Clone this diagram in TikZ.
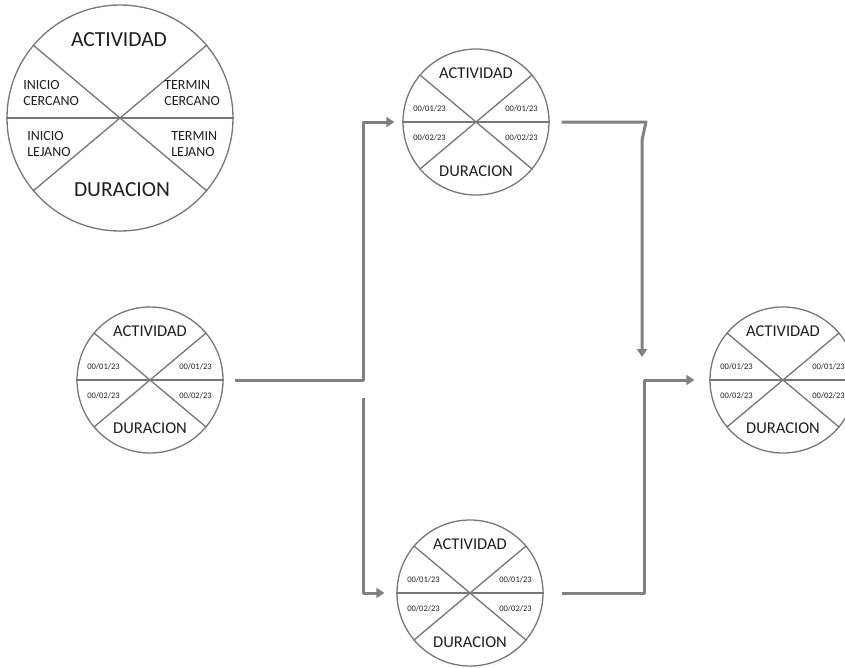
\documentclass[tikz,border=0pt]{standalone}
\usepackage{fontspec}
\setmainfont{Carlito}
\usepackage{tikz}
\usetikzlibrary{arrows.meta}
\definecolor{cgrey}{RGB}{118,118,118}
\definecolor{agrey}{RGB}{128,128,128}
\definecolor{tblack}{RGB}{30,30,30}

\begin{document}
\begin{tikzpicture}[x=1pt,y=-1pt,semithick,>={Triangle[length=8pt,width=10pt]}]
      \tikzstyle{event}=[circle,draw=cgrey,line width=1.3pt,fill=white,inner sep=0pt,minimum size=146pt]
      \tikzstyle{cut}=[draw=cgrey,line width=1.3pt]
      \tikzstyle{big}=[text=tblack,font=\fontsize{21.5}{24}\selectfont]
      \tikzstyle{mid}=[text=tblack,font=\fontsize{16.5}{19}\selectfont]
      \tikzstyle{key}=[text=tblack,align=left,anchor=west,inner sep=0pt,font=\fontsize{14}{16.5}\selectfont]
      \tikzstyle{date}=[text=tblack,inner sep=0pt,font=\fontsize{8.5}{10}\selectfont]
      \tikzstyle{link}=[draw=agrey,line width=3pt,line join=round,->]
      \useasboundingbox (0,0) rectangle (845,667);
      % legend
      \node [event,minimum size=226pt] (a) at (120,118) {};
      \draw [cut] (a.west) -- (a.east);
      \draw [cut] (a.140) -- (a.-40);
      \draw [cut] (a.40) -- (a.-140);
      \node [big] (a1) at (119,40) {ACTIVIDAD};
      \node [big] (a2) at (122,190) {DURACION};
      \node [key] (a3) at (23,93) {INICIO\\CERCANO};
      \node [key] (a4) at (164,93) {TERMIN\\CERCANO};
      \node [key] (a5) at (27,144) {INICIO\\LEJANO};
      \node [key] (a6) at (171,144) {TERMIN\\LEJANO};
      % first activity
      \node [event] (b) at (150,380) {};
      \draw [cut] (b.west) -- (b.east);
      \draw [cut] (b.140) -- (b.-40);
      \draw [cut] (b.40) -- (b.-140);
      \node [mid] (b1) at (150,331) {ACTIVIDAD};
      \node [mid] (b2) at (150,428) {DURACION};
      \node [date,anchor=west] (b3) at (87,367) {00/01/23};
      \node [date,anchor=east] (b4) at (212,367) {00/01/23};
      \node [date,anchor=west] (b5) at (87,396) {00/02/23};
      \node [date,anchor=east] (b6) at (212,396) {00/02/23};
      % upper activity
      \node [event] (c) at (476,122) {};
      \draw [cut] (c.west) -- (c.east);
      \draw [cut] (c.140) -- (c.-40);
      \draw [cut] (c.40) -- (c.-140);
      \node [mid] (c1) at (476,73) {ACTIVIDAD};
      \node [mid] (c2) at (476,171) {DURACION};
      \node [date,anchor=west] (c3) at (413,109) {00/01/23};
      \node [date,anchor=east] (c4) at (538,109) {00/01/23};
      \node [date,anchor=west] (c5) at (413,138) {00/02/23};
      \node [date,anchor=east] (c6) at (538,138) {00/02/23};
      % lower activity
      \node [event] (d) at (470,593) {};
      \draw [cut] (d.west) -- (d.east);
      \draw [cut] (d.140) -- (d.-40);
      \draw [cut] (d.40) -- (d.-140);
      \node [mid] (d1) at (470,544) {ACTIVIDAD};
      \node [mid] (d2) at (470,642) {DURACION};
      \node [date,anchor=west] (d3) at (407,580) {00/01/23};
      \node [date,anchor=east] (d4) at (532,580) {00/01/23};
      \node [date,anchor=west] (d5) at (407,609) {00/02/23};
      \node [date,anchor=east] (d6) at (532,609) {00/02/23};
      % last activity
      \node [event] (e) at (783,380) {};
      \draw [cut] (e.west) -- (e.east);
      \draw [cut] (e.140) -- (e.-40);
      \draw [cut] (e.40) -- (e.-140);
      \node [mid] (e1) at (783,331) {ACTIVIDAD};
      \node [mid] (e2) at (783,428) {DURACION};
      \node [date,anchor=west] (e3) at (720,367) {00/01/23};
      \node [date,anchor=east] (e4) at (845,367) {00/01/23};
      \node [date,anchor=west] (e5) at (720,396) {00/02/23};
      \node [date,anchor=east] (e6) at (845,396) {00/02/23};
      % links
      \coordinate (j1) at (363,250);
      \coordinate (s) at (363,398);
      \coordinate (k) at (646,122);
      \coordinate (t) at (642,357);
      \coordinate (j2) at (644,480);
      \draw [link,shorten <=11pt,shorten >=8pt] (b.east) -| (j1) |- (c.west);
      \draw [link,shorten >=12pt] (s) |- (d.west);
      \draw [link,shorten <=12pt] (c.east) -- (k) -- ++(-4,18) -- (t);
      \draw [link,shorten <=18pt,shorten >=15pt] (d.east) -| (j2) |- (e.west);
  \end{tikzpicture}
\end{document}
